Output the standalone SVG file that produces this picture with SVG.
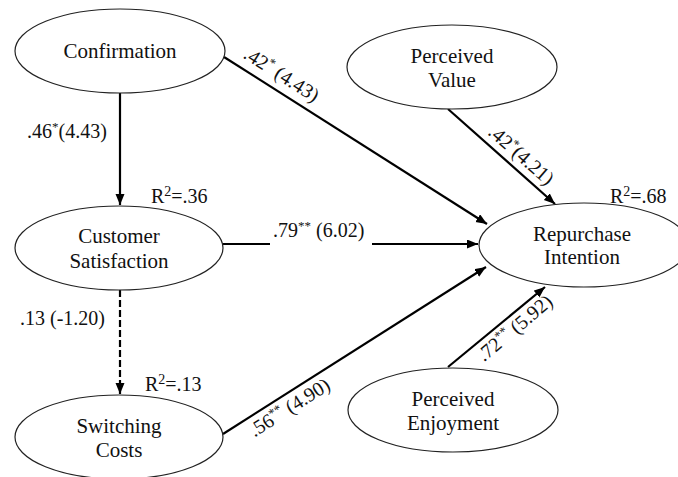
<svg xmlns="http://www.w3.org/2000/svg" width="678" height="477" viewBox="0 0 678 477">
<defs>
<style>
.node ellipse{fill:#fff;stroke:#222;stroke-width:1.2}
.node text{font-size:21px;fill:#111;text-anchor:middle}
.conn line{stroke:#000;stroke-width:2.2}
.dash{stroke-dasharray:7 3}
.lbl{font-size:20px;fill:#111}
.mid{text-anchor:middle}
.sup{font-size:13px}
</style>
<marker id="ah" markerUnits="userSpaceOnUse" markerWidth="12" markerHeight="10" refX="11" refY="4.5" orient="auto">
<path d="M0,0 L11,4.5 L0,9 z" fill="#000"/>
</marker>
</defs>
<rect width="678" height="477" fill="#fff"/>
<g id="connectors" class="conn">
<line x1="120" y1="93" x2="120" y2="205" marker-end="url(#ah)"/>
<line x1="224" y1="57" x2="487" y2="224" marker-end="url(#ah)"/>
<line x1="448" y1="109" x2="555" y2="204" marker-end="url(#ah)"/>
<line x1="223" y1="244" x2="270" y2="244"/>
<line x1="372" y1="244" x2="478" y2="244" marker-end="url(#ah)"/>
<line class="dash" x1="120" y1="290" x2="120" y2="394" marker-end="url(#ah)"/>
<line x1="223" y1="434" x2="486" y2="267" marker-end="url(#ah)"/>
<line x1="448" y1="367" x2="545" y2="287" marker-end="url(#ah)"/>
</g>
<g font-family="'Liberation Serif', 'Times New Roman', 'DejaVu Serif', serif">
<g id="confirmation" class="node">
<ellipse cx="120" cy="51" rx="105" ry="42"/>
<text x="120" y="58">Confirmation</text>
</g>
<g id="customer-satisfaction" class="node">
<ellipse cx="119" cy="248" rx="104" ry="42"/>
<text x="119" y="243">Customer</text>
<text x="119" y="268">Satisfaction</text>
</g>
<g id="switching-costs" class="node">
<ellipse cx="119" cy="437" rx="104" ry="42"/>
<text x="119" y="433">Switching</text>
<text x="119" y="457">Costs</text>
</g>
<g id="perceived-value" class="node">
<ellipse cx="452" cy="67" rx="105" ry="42"/>
<text x="452" y="63">Perceived</text>
<text x="452" y="87">Value</text>
</g>
<g id="repurchase-intention" class="node">
<ellipse cx="584" cy="245" rx="105" ry="42"/>
<text x="582" y="241">Repurchase</text>
<text x="582" y="264">Intention</text>
</g>
<g id="perceived-enjoyment" class="node">
<ellipse cx="453" cy="410" rx="105" ry="42"/>
<text x="453" y="406">Perceived</text>
<text x="453" y="430">Enjoyment</text>
</g>
<g id="labels">
<text class="lbl" x="27" y="138">.46<tspan class="sup" dy="-7">*</tspan><tspan dy="7">(4.43)</tspan></text>
<text class="lbl" x="151" y="203">R<tspan class="sup" dy="-7" style="font-size:14px">2</tspan><tspan dy="7">=.36</tspan></text>
<text class="lbl mid" transform="translate(278,80) rotate(32.4)">.42<tspan class="sup" dy="-7">*</tspan><tspan dy="7"> (4.43)</tspan></text>
<text class="lbl mid" transform="translate(517,160) rotate(41)">.42<tspan class="sup" dy="-7">*</tspan><tspan dy="7">(4.21)</tspan></text>
<text class="lbl" x="610" y="203">R<tspan class="sup" dy="-7" style="font-size:14px">2</tspan><tspan dy="7">=.68</tspan></text>
<text class="lbl" x="273" y="237">.79<tspan class="sup" dy="-7">**</tspan><tspan dy="7"> (6.02)</tspan></text>
<text class="lbl" x="20" y="325">.13 (-1.20)</text>
<text class="lbl" x="145" y="391">R<tspan class="sup" dy="-7" style="font-size:14px">2</tspan><tspan dy="7">=.13</tspan></text>
<text class="lbl mid" transform="translate(293,413) rotate(-32.5)">.56<tspan class="sup" dy="-7">**</tspan><tspan dy="7"> (4.90)</tspan></text>
<text class="lbl mid" transform="translate(519,333) rotate(-40)">.72<tspan class="sup" dy="-7">**</tspan><tspan dy="7"> (5.92)</tspan></text>
</g>
</g>
</svg>
